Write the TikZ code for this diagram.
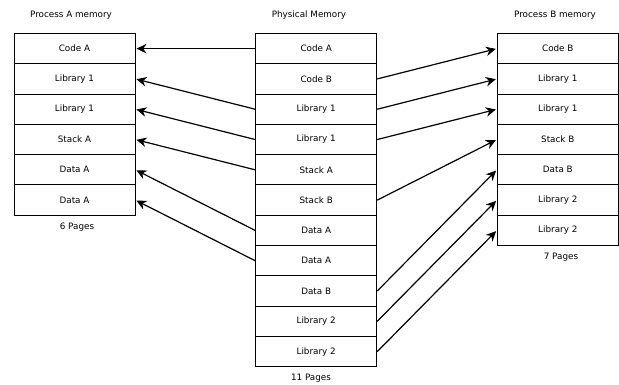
\documentclass[tikz,border=0pt]{standalone}
\usepackage{fontspec}
\setmainfont{DejaVu Sans}
\usetikzlibrary{arrows.meta}

\tikzset{
	page/.style={draw, line width=1pt, minimum width=121pt, minimum height=30.3pt, inner sep=0pt},
	lbl/.style={inner sep=0pt},
	map/.style={line width=1.2pt, -{Stealth[length=10pt,width=9.5pt]}, shorten >=1pt}
}

\begin{document}
\begin{tikzpicture}[x=1pt, y=-1pt, font=\fontsize{8.8}{10}\selectfont]
	\useasboundingbox (0,0) rectangle (619,385);
	% process A
	\node[lbl] (titleA) at (71,15) {Process A memory};
	\foreach \t [count=\i] in {Code A, Library 1, Library 1, Stack A, Data A, Data A}
		\node[page] (a\i) at (74.5,{33.5+30.3*(\i-0.5)}) {\t};
	\node[lbl] (pagesA) at (77,227) {6 Pages};
	% physical
	\node[lbl] (titleP) at (309,15) {Physical Memory};
	\foreach \t [count=\i] in {Code A, Code B, Library 1, Library 1, Stack A, Stack B, Data A, Data A, Data B, Library 2, Library 2}
		\node[page] (p\i) at (316.2,{33.5+30.3*(\i-0.5)}) {\t};
	\node[lbl] (pagesP) at (311,378) {11 Pages};
	% process B
	\node[lbl] (titleB) at (555,15) {Process B memory};
	\foreach \t [count=\i] in {Code B, Library 1, Library 1, Stack B, Data B, Library 2, Library 2}
		\node[page] (b\i) at (557.8,{33.5+30.3*(\i-0.5)}) {\t};
	\node[lbl] (pagesB) at (561,257) {7 Pages};
	% mappings A
	\draw[map] (p1.west) -- (a1.east);
	\draw[map] (p3.west) -- (a2.east);
	\draw[map] (p4.west) -- (a3.east);
	\draw[map] (p5.west) -- (a4.east);
	\draw[map] (p7.west) -- (a5.east);
	\draw[map] (p8.west) -- (a6.east);
	% mappings B
	\draw[map] (p2.east) -- (b1.west);
	\draw[map] (p3.east) -- (b2.west);
	\draw[map] (p4.east) -- (b3.west);
	\draw[map] (p6.east) -- (b4.west);
	\draw[map] (p9.east) -- (b5.west);
	\draw[map] (p10.east) -- (b6.west);
	\draw[map] (p11.east) -- (b7.west);
\end{tikzpicture}
\end{document}
